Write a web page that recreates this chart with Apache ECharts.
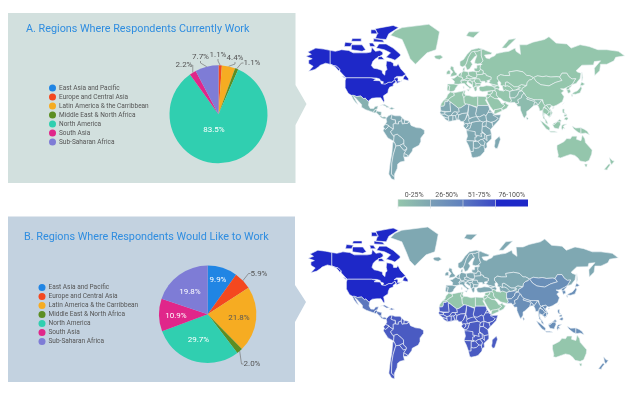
<!DOCTYPE html>
<html><head><meta charset="utf-8">
<style>html,body{margin:0;padding:0;background:#fff}#c{width:640px;height:396px}</style>
<script src="https://cdn.jsdelivr.net/npm/echarts@6/dist/echarts.min.js"></script>
</head><body><div id="c"></div>
<script>
const regions = ['East Asia and Pacific','Europe and Central Asia','Latin America & the Carribbean','Middle East & North Africa','North America','South Asia','Sub-Saharan Africa'];
const regionColors = ['#2085E4','#F4481F','#F6AC22','#5C8E22','#30CFB0','#E0268A','#7E7CD6'];
const currentWork = [0,1.1,4.4,1.1,83.5,2.2,7.7];
const wouldLikeWork = [9.9,5.9,21.8,2.0,29.7,10.9,19.8];
const bandLabels = ['0-25%','26-50%','51-75%','76-100%'];
const titleA = 'A. Regions Where Respondents Currently Work';
const titleB = 'B. Regions Where Respondents Would Like to Work';
// estimated shade (0-100) of each map group
const mapGroups = ['na','gl','mx','sa','eu','ru','ca','me','sas','eas','ssa','au','nz'];
const shadeA =    [100, 0,  18, 25, 0,  0,  0,  0,  8,   0,   25,  0,  0];
const shadeB =    [100, 25, 62, 75, 25, 25, 25, 0,  50,  50,  75,  0,  50];
const shadeStops = ['#94C6AC','#7FA8B2','#6A8FB8','#4A5BC2','#1E28C8'];
// coarse base geography: [country, group, "lon,lat lon,lat ...|next polygon"]
const geography = [
['Canada','na','-141,69.6 -135,69 -128,70 -120,69.5 -115,68 -108,68 -100,68 -95,68.5 -94,71.5 -90,69 -85,69.5 -82,68.5 -81.5,67 -87,65 -90,64 -93,62 -94.5,59 -92,57 -88,56.5 -82.5,55.2 -82,52.9 -79.5,51.3 -79,54.5 -77,56 -78,59 -77.5,62.4 -73,62 -70,61 -69.5,58.8 -66,58.8 -64.5,60.3 -61.5,56.5 -57,53 -55.8,52 -60,50.2 -66,50.2 -69,48.5 -65,49.2 -64.5,47.5 -65,46 -61,46 -60,47 -62,45.5 -66,44 -66,45 -67,45.2 -68,47.3 -70,46 -71.5,45 -75,45 -79,43.3 -82.5,43 -81.7,44 -81,45.5 -84.5,46.5 -85,47.9 -88.5,48.8 -89.5,48 -95,49 -123,49 -125,50.5 -130,54.5 -130,56 -133.5,58.5 -137,59 -141,60|-62,66 -68,63 -72,64 -78,65 -73,68 -80,70 -89,71 -86,73.5 -78,73.5 -70,71 -62,67|-117,70 -105,69 -101,70 -105,73 -117,73|-125,72 -118,72 -116,74 -124,74.5|-90,76.5 -78,76 -75,79 -64,82 -70,83 -90,81.5 -88,79|-92,74.8 -80,74.5 -82,75.8 -92,76.5|-96,72 -90,72 -93,74 -97,74|-117,75 -106,75 -106,76.5 -116,76.5|-95,79 -87,79 -90,81 -95,81|-87,63.5 -80,63.5 -83,65.5 -87,65.5|-59,47.7 -53,46.7 -53,48.5 -56,51.5 -58,50|-128,50.5 -123.5,48.4 -125,50'],
['USA','na','-123,49 -95,49 -89.5,48 -92,46.7 -86,46.5 -84.5,46 -84,45 -83.3,43.7 -82.5,43 -79,43.3 -75,45 -71.5,45 -70,46 -68,47.3 -67,45.2 -70,43.5 -70,41.7 -74,40.5 -75.5,38 -76,35 -81,32 -80,27 -80.5,25.2 -82.5,28 -84,30 -89,30 -90,29 -94,29.5 -97,27.5 -97.2,26 -99.5,27.5 -101.5,29.8 -103,29 -106.5,31.8 -111,31.3 -114.8,32.5 -117.1,32.5 -120.5,34.5 -124,40 -124,46.5|-141,69.6 -141,60 -137,59 -133.5,58.5 -130,56 -131.5,55 -135,58 -140,59.8 -146,60.8 -152,59.2 -154,58 -158,56 -165,54.5 -160,58.5 -165,60.5 -165,63 -161,64 -168,65.7 -162,67 -166,68.5 -157,71 -148,70.4'],
['Mexico','mx','-117.1,32.5 -114.8,32.5 -111,31.3 -106.5,31.8 -103,29 -101.5,29.8 -99.5,27.5 -97.2,26 -97.8,22.3 -95.8,18.8 -92,18.6 -90.5,21 -87,21.5 -88,18.2 -89.2,17.8 -91,17 -92.2,14.5 -96,15.8 -101,17.5 -105.5,20 -105.5,23 -109,26.5 -112.5,30 -114.7,31.5 -112,27 -109.5,23 -112,25 -115,28.5'],
['Guatemala','mx','-92.2,14.5 -91,17 -89.2,17.8 -88.3,16 -89.3,14.4 -90.5,13.8'],
['Honduras','mx','-89.3,14.4 -88.3,16 -83.2,15 -83.7,11 -85.7,11 -87.6,13'],
['Panama','mx','-85.7,11 -83.7,11 -82.5,9.3 -79.5,9.6 -77.3,8.6 -78,7.4 -80.5,7.3 -83,8.2'],
['Cuba','mx','-85,22 -80,23.2 -74.2,20.2 -77.5,19.9 -78,21 -82,22.5'],
['Hispaniola','mx','-74.4,18.5 -72,20 -68.4,18.7 -71.5,17.7'],
['Colombia','sa','-77.3,8.6 -75,11 -72,12.2 -71.5,10.8 -72.5,7.5 -70,6.5 -67.5,6.2 -67.8,2 -70,1.5 -69.8,-4.2 -73,-2.3 -75.2,-0.1 -78.8,1.4 -77.3,4 -78,7.4'],
['Venezuela','sa','-72,12.2 -68,10.7 -62,10.7 -60,8.5 -60.7,5.2 -64,4 -64,1.5 -67,1.2 -67.8,2 -67.5,6.2 -70,6.5 -72.5,7.5 -71.5,10.8'],
['Guyana','sa','-60,8.5 -57.2,6 -57.5,2 -59.8,1.5 -60.7,5.2'],
['Suriname','sa','-57.2,6 -52,4.9 -51.6,4 -54,2.2 -57.5,2'],
['Ecuador','sa','-78.8,1.4 -75.2,-0.1 -75.5,-1.5 -78.5,-4.5 -80.3,-3.4 -81,-1'],
['Peru','sa','-75.2,-0.1 -73,-2.3 -69.8,-4.2 -73,-7 -70.6,-11 -69,-12.5 -69.5,-17.5 -70.4,-18.3 -76,-14 -81.3,-6 -80.3,-3.4 -78.5,-4.5 -75.5,-1.5'],
['Bolivia','sa','-69,-12.5 -69.5,-11 -65.4,-9.8 -60.5,-13.7 -58,-16.3 -58,-19.8 -62.7,-22.2 -67,-22.8 -68.5,-19 -69.5,-17.5'],
['Chile','sa','-70.4,-18.3 -69.5,-17.5 -68.5,-19 -67,-22.8 -70,-32 -71.5,-40 -72,-50 -68.5,-52.3 -68.5,-55 -72,-54 -75,-50 -73.5,-40 -71.5,-30'],
['Argentina','sa','-67,-22.8 -62.7,-22.2 -58,-27.3 -54.6,-26 -57.6,-30.2 -58,-34 -57,-38 -62,-39 -65,-41 -65.5,-45 -68.5,-50 -68.5,-52.3 -72,-50 -71.5,-40 -70,-32'],
['Paraguay','sa','-62.7,-22.2 -58,-19.8 -57.8,-22 -55,-24 -54.6,-26 -58,-27.3'],
['Uruguay','sa','-58,-34 -53.5,-34 -53.2,-32.7 -57.6,-30.2'],
['Brazil','sa','-69.8,-4.2 -70,1.5 -67.8,2 -67,1.2 -64,1.5 -64,4 -60.7,5.2 -59.8,1.5 -57.5,2 -54,2.2 -51.6,4 -50,0 -44,-2.5 -39,-3 -35,-5.5 -35,-9 -39,-14 -39,-18 -41,-22 -48,-25.5 -48.5,-28 -53.5,-34 -53.2,-32.7 -57.6,-30.2 -54.6,-26 -55,-24 -57.8,-22 -58,-19.8 -58,-16.3 -60.5,-13.7 -65.4,-9.8 -69.5,-11 -69,-12.5 -70.6,-11 -73,-7'],
['Greenland','gl','-73,78.2 -60,76 -55,70 -51,64 -45,60 -42,62 -32,68 -22,70 -20,75 -18,80 -30,83.5 -60,82 -68,80.5'],
['Iceland','eu','-24,65.5 -22,64 -18,63.5 -14,65 -17,66.5 -22,66.3'],
['Norway','eu','5,59 7.5,58 11,59 12.5,61 14.5,65 18,68.5 25,69 29,70 31,70.3 26,71 18,70 13,67 9,63.5 5,62'],
['Sweden','eu','11,59 13,55.5 16,56.5 19,60 17,62 22,65.8 24,66 21,69 18,68.5 14.5,65 12.5,61'],
['Finland','eu','24,66 22,63 21.5,60.8 25,60.2 28,60.5 31,62.5 29,66 29,70 25,69 21,69'],
['Russia','ru','28,60.5 30,60 28,59.5 27.5,57.5 28,56 31,55 31,53 34,52.3 34.5,51 40,49.6 39.8,47.5 37.5,47 39,46 37,45 40,43.5 48,42 47.5,45 49,46.5 47,48 47,50 50.5,51.7 55,51 61,51 60,54 69,55 76,54 80,51 83,51 87.5,49.2 92,50.7 98,50 102,50.5 107,49.7 114,50 117,49.7 119.7,53 125,53 127.5,50 131,48 135,48.3 131,43 132,43 135.5,44 140,48.5 141,53 137,54 135.5,55 142,59.3 155,59.5 156,62 163,62.5 156,57 156.5,51 162,55 163,60 170,60 178,62.5 180,65 190,66 183,69 170,70 160,70 150,72 140,73 130,71 125,73.5 113,74 105,77.5 100,76 87,74.5 80,73 72,73 73,67 68,69 67,71 60,69 54,68.5 46,67.5 44,66 40,65 38,64 34.5,64.5 32.5,66.5 40,67 41,68 34,69.5 31,70.3 29,70 29,66 31,62.5|142,54 143,49 142,46 142,50|52,71 57,71 68,76.5 60,76'],
['Svalbard','eu','12,78 20,77 27,80 15,80'],
['Baltics','eu','28,59.5 24,59.3 24,57 21,57 21,55.3 23,54.3 26,54 28,56 27.5,57.5'],
['Belarus','eu','28,56 31,55 31,53 31,52 25,51.7 23.7,52 23,54.3 26,54'],
['Ukraine','eu','23.7,52 25,51.7 31,52 31,53 34,52.3 34.5,51 40,49.6 39.8,47.5 37.5,47 35,46.3 36.5,45.2 33.5,44.5 33,46 30,46 28,45.5 27,48 22.5,48.2 22.5,49 24,50.5'],
['Poland','eu','14.2,54 19,54.5 23,54.3 23.7,52 24,50.5 22.5,49 19,49.5 15,51'],
['Germany','eu','7,53.5 9,54.8 14.2,54 15,51 12.2,50.3 13.5,48.7 10,47.5 7.5,47.7 8,49 6.2,49.5 6,51'],
['Denmark','eu','8.2,55 8.5,57 10.5,57.5 10,55'],
['Benelux','eu','3,51.3 4.8,53 7,53.5 6,51 6.2,49.5 4,50'],
['France','eu','2.5,51 3,51.3 4,50 6.2,49.5 8,49 7.5,47.7 6,46.2 7,44 3,43.2 3,42.5 -1.7,43.4 -1.2,46 -4.7,48.4 -1.5,48.7 0,49.6'],
['Spain','eu','-1.7,43.4 3,42.5 0,39.5 -0.5,38 -2,36.8 -5.5,36 -7.4,37.2 -6.5,41.5 -9,42 -9,43.5'],
['Portugal','eu','-9,42 -6.5,41.5 -7.4,37.2 -9,37 -9.5,38.7'],
['Italy','eu','7,44 6,46.2 10,47 13.5,46.5 13.7,45.6 12.3,44.5 14,42.3 18.4,40 16.5,39.6 16,38 15.5,40 12,42 10,44|12.5,38 15.5,38.2 15,36.7|8.3,41 9.7,41 9.5,39 8.5,39'],
['Austria','eu','7.5,47.7 10,47.5 13.5,48.7 17,48.5 16,46.8 13.5,46.5 10,47 6,46.2'],
['Czechia','eu','12.2,50.3 15,51 19,49.5 22.5,49 22.5,48.2 17,47.9 17,48.5 13.5,48.7'],
['Hungary','eu','17,47.9 22.5,48.2 21,46.2 18.5,45.8 16,46.8 17,48.5'],
['Romania','eu','22.5,48.2 27,48 28,45.5 29.5,45.2 28.5,43.7 22.7,44 21,46.2'],
['Bulgaria','eu','22.7,44 28.5,43.7 28,42 26,41.5 22.9,41.3'],
['Greece','eu','20.5,39.7 21,41 22.9,41.3 26,41.5 24,40.5 23,40 24,38 23,36.5 21.5,37 21,38.5'],
['Croatia','eu','13.7,45.6 16,46.8 18.5,45.8 19.3,44 19,42.6 18.5,42.5 14.5,45'],
['Serbia','eu','18.5,45.8 21,46.2 22.7,44 22.9,41.3 21,41 20.5,39.7 19.4,41 19,42.6 19.3,44'],
['UK','eu','-5.5,50 1.3,51.2 1.7,52.7 0,53.5 -2,56 -2,57.7 -5,58.6 -6,56.5 -3,54 -5,52'],
['Ireland','eu','-10,52 -6,52.2 -6,55 -8,55.3 -10,54'],
['Turkey','ca','26.3,40 28,41.2 31,41.2 35,42 41.5,41.5 44.5,39.7 44.5,37.2 42,37.2 36,36.8 36,36 30.5,36.2 27.3,37'],
['Georgia','ca','41.5,41.5 40,43.5 46.5,41.8 45,41.2'],
['Azerbaijan','ca','41.5,41.5 45,41.2 46.5,41.8 48,42 49.5,40.3 48.5,38.5 44.5,39.7'],
['Syria','me','36,36 36,36.8 42,37.2 41,34.4 38.8,33.4 36,33'],
['Iraq','me','42,37.2 44.5,37.2 46,35.5 46,33 48.5,30 46.5,29 44,29.2 39,32 38.8,33.4 41,34.4'],
['Jordan','me','34.3,31.2 35,33 36,33 38.8,33.4 39,32 37,30 35,29.5'],
['Saudi Arabia','me','35,29.5 37,30 39,32 44,29.2 46.5,29 48,28.5 50,26.5 51.5,24.3 55.5,22 52,19 48,18 44,17.4 43,17 42.5,16.5 39,21 35,28'],
['Yemen','me','43,13 45,13 52,16 53,16.7 52,19 48,18 44,17.4 43,17'],
['Oman','me','51.5,24.3 54,24.2 56.3,26 56.5,24 59.8,22.5 57.5,18.9 53,16.7 52,19 55.5,22'],
['Iran','me','44.5,39.7 48.5,38.5 49,37.5 54,36.8 56,38 61,36.5 61,31.5 63,27 61.5,25 57,26 54,26.7 50.5,29.5 48.5,30 46,33 46,35.5 44.5,37.2'],
['Afghanistan','sas','61,36.5 65,37.5 68,38 71,38.2 74.5,37 71,36 70,33 66.5,30 61,29.8 61,31.5'],
['Pakistan','sas','61,29.8 66.5,30 70,33 71,36 74.5,37 77,35 74.5,32 74,30 70,28 71,24.5 68,23.7 66.5,25.3 61.5,25 63,27 61,31.5'],
['Turkmenistan','ca','52.5,41.7 54,42.3 56,41.3 58,42 61,41 65,38 65,37.5 61,36.5 56,38 54,36.8 53,40'],
['Uzbekistan','ca','56,45 58,45.5 61,44 66,41 70,41 73,40 68,38 65,37.5 65,38 61,41 58,42 56,41.3'],
['Kyrgyzstan','ca','68,38 71,38.2 74.5,37 75,39.5 80,42 74,43 70,41 73,40'],
['Kazakhstan','ca','47,48 49,46.5 51,44.5 50.5,42.5 52.5,41.7 54,42.3 56,41.3 56,45 58,45.5 61,44 66,41 70,41 74,43 80,42 80.5,45 83,47 85.5,47.5 87.5,49.2 83,51 80,51 76,54 69,55 60,54 61,51 55,51 50.5,51.7 47,50'],
['Mongolia','eas','87.5,49.2 92,50.7 98,50 102,50.5 107,49.7 114,50 117,49.7 119.7,46.7 112,44.8 105,41.7 96,42.8 91,45.5'],
['China','eas','74.5,37 75,39.5 80,42 80.5,45 83,47 85.5,47.5 87.5,49.2 91,45.5 96,42.8 105,41.7 112,44.8 119.7,46.7 117,49.7 119.7,53 125,53 127.5,50 131,48 135,48.3 131,43 128,41.5 124.3,40 121.5,39 118,39 122,37 119,35 122,31 120,26 114,22.5 110,21 108,21.6 106,23 102,22.4 101,21.2 98.8,24 98,28 92,28 88.5,28 81,30.2 78.5,32.5 77,35|109,18.5 111,19.5 109.5,20'],
['Taiwan','eas','120.2,23 121,22 122,25 121,25'],
['North Korea','eas','124.3,40 128,41.5 131,43 129.7,41 127.5,39.5 128.5,38.4 125,37.8'],
['South Korea','eas','125,37.8 128.5,38.4 129.4,36 128.5,35 126.5,34.5'],
['Japan','eas','131,34 135,33.6 140,35 142,39.5 141,41.3 139.8,40 137,37 133,35.5|130,33.5 131.8,33.2 131,31 130,32|140,42 143,42.2 145.3,43.5 141.7,45.4'],
['India','sas','68,23.7 71,24.5 70,28 74,30 74.5,32 77,35 78.5,32.5 81,30.2 80,28.8 88,26.5 88.5,28 92,28 97,28 94,24 92.5,22 91.5,24.3 89,26 88,22 87,21 82,16.7 80,15.5 80,12 77.5,8 76,10 73,17 72.8,21 70,20.8 69,22.5'],
['Nepal','sas','80,28.8 81,30.2 88.5,28 88,26.5'],
['Bangladesh','sas','88,22 89,26 91.5,24.3 92.5,22 91,22.5'],
['Sri Lanka','sas','80,9.6 81.8,7.5 80.5,6 79.8,8'],
['Myanmar','eas','94,24 97,28 98,28 98.8,24 101,21.2 100,20.3 99,20 98,16 99,12 98,10 97.5,16.5 94.5,16 94,19 92.5,22'],
['Thailand','eas','99,20 100,20.3 103,18 105.5,15 102.5,12 100,13.5 99.5,11 100,8 102,6 100.5,6.5 98.3,8 99,12 98,16'],
['Laos','eas','100,20.3 101,21.2 102,22.4 105,19 107.5,15 105.5,15 103,18'],
['Cambodia','eas','102.5,12 105.5,15 107.5,15 107,11 105,10'],
['Vietnam','eas','102,22.4 106,23 108,21.6 105.8,19 109,14 107,10.5 105,8.7 105,10 107,11 107.5,15 105,19'],
['Malaysia','eas','100.5,6.5 102,6 103.5,3 104,1.4 101.3,3|109.5,2 113,3.3 117,7 119,5 117.7,4 114.5,4 111,1'],
['Indonesia','eas','95.3,5.5 98.5,3.5 104,-1 106,-3 105.5,-5.8 102,-4 98,1|105.5,-6.5 111,-6.5 114.5,-7.7 114,-8.7 107,-7.7|109,1 109.5,2 111,1 114.5,4 117.7,4 118,1 116.5,-2 116,-4 111,-3 110,-1|119.5,0 121,1 125,1.5 121,-1 123,-4 121,-3 120,-5.5 119,-3|131,-0.8 135,-3 141,-2.6 141,-9 138,-8 133,-4'],
['Papua New Guinea','eas','141,-2.6 145,-4.5 148,-6.5 150.5,-10.5 146,-8.5 143,-9 141,-9'],
['Philippines','eas','120.3,18.3 122.2,18.3 122,15 124,13 120.6,14 120,16|122,7 125,5.8 126.5,7.5 125.5,9.5 123,8.5|122,10 125,10.5 125,12.5 122,11.8'],
['Australia','au','114,-22 114,-26 115.5,-32 115,-34.4 118,-35 124,-33 129,-31.5 134,-32.5 137.5,-35 140,-38 146,-39 150,-37.5 153,-31 153.5,-27 146,-19 145.3,-15 142.5,-10.8 141,-17 136,-15.5 136.5,-12 131,-12 129,-15 125,-14.5 122,-18 117,-20.5|145,-41 148,-41 147.5,-43.5 146,-43.5'],
['New Zealand','nz','173,-34.5 176,-37.5 178.5,-38 175.5,-41.5 174,-39.5|172.5,-40.7 174,-41.7 171,-45 170.5,-46.5 167,-46 171,-42'],
['Morocco','me','-5.8,35.8 -2,35 -1.2,32.5 -5,30.5 -8.7,27.7 -13,27.7 -10,30 -9,33'],
['Western Sahara','me','-13,27.7 -8.7,27.7 -8.7,26 -12,26 -12,23.3 -13,21.3 -17,21 -16,24'],
['Algeria','me','-2,35 9.5,37 8,33 9.5,30 10,24.5 12,23.5 6,19.5 3.3,19 -4.8,25 -8.7,27.7 -5,30.5 -1.2,32.5'],
['Tunisia','me','9.5,37 11,37 10.2,34 11.5,32.5 9.5,30 8,33'],
['Libya','me','11.5,32.5 15,32.3 20,31 25,31.7 25,22 25,20 24,19.5 15,23 12,23.5 10,24.5 9.5,30'],
['Egypt','me','25,31.7 32,31.3 34.3,31.2 35,28 33.5,28 37,22 25,22'],
['Sudan','ssa','24,19.5 25,20 25,22 37,22 38.5,18 36.5,14.3 34.2,10.5 32,12 27,9.5 23.5,10 22.5,13'],
['South Sudan','ssa','23.5,10 27,9.5 32,12 34.2,10.5 35,5 31,3.6 27.5,5'],
['Eritrea','ssa','38.5,18 43,12.6 40,14.7 36.5,14.3'],
['Ethiopia','ssa','36.5,14.3 40,14.7 43,12.6 42,11.5 48,8 45,5 42,4 39,3.5 35,5 34.2,10.5'],
['Somalia','ssa','42,11.5 51,12 49,6 42,-1.5 41,2.8 42,4 45,5 48,8'],
['Kenya','ssa','35,5 39,3.5 41,2.8 42,-1.5 39.3,-4.6 34,-1 34,4'],
['Uganda','ssa','31,3.6 35,5 34,4 34,-1 30,-1.2 30,1.5'],
['Tanzania','ssa','30,-1.2 34,-1 39.3,-4.6 40.5,-10.5 35,-11.5 32.8,-9.4 29.5,-6.5'],
['DR Congo','ssa','18.5,3.5 22,4.2 27.5,5 31,3.6 30,1.5 30,-1.2 29.5,-6.5 30,-8.5 28.5,-9 29.5,-12.5 25,-11.7 24,-11 22,-11 22,-7 17,-7 16,-6 12.2,-6 13,-4.8 16,-3.5 17.5,1'],
['Congo','ssa','13.3,2.2 16,2.2 18.5,3.5 17.5,1 16,-3.5 13,-4.8 11.2,-3.7 14,-0.5'],
['Gabon','ssa','9.5,1 11.3,2.2 13.3,2.2 14,-0.5 11.2,-3.7 9,-1'],
['Cameroon','ssa','9.7,3 8.6,4.5 11,6.5 14,12.8 15,10 15.3,7.6 14.3,6.5 16,2.2 13.3,2.2 11.3,2.2 9.5,1'],
['Central African Rep.','ssa','14.3,6.5 15.3,7.6 18.5,8.8 22.5,11 23.5,10 27.5,5 22,4.2 18.5,3.5 16,2.2'],
['Chad','ssa','14,12.8 13.5,13.7 15,23 24,19.5 22.5,13 23.5,10 22.5,11 18.5,8.8 15.3,7.6 15,10'],
['Niger','ssa','3.3,19 6,19.5 12,23.5 15,23 13.5,13.7 8,13.3 3.7,11.7 2.2,12.5 1,15 4,15'],
['Mali','ssa','-12.2,12.5 -12,14.8 -11.5,15.5 -5.5,15.5 -6.5,25 -4.8,25 3.3,19 4,15 1,15 -2,15 -5,11 -8,10.3'],
['Mauritania','ssa','-17,21 -13,21.3 -12,23.3 -12,26 -8.7,26 -8.7,27.7 -4.8,25 -6.5,25 -5.5,15.5 -11.5,15.5 -12,14.8 -16.5,16'],
['Senegal','ssa','-16.5,16 -12,14.8 -12.2,12.5 -16.7,12.4 -17.5,14.7'],
['Guinea','ssa','-16.7,12.4 -12.2,12.5 -8,10.3 -7.7,8 -10.3,8.5 -13.2,9.5 -15,11'],
['Liberia','ssa','-13.2,9.5 -10.3,8.5 -7.7,8 -7.5,4.4 -11.5,6.9'],
['Ivory Coast','ssa','-7.7,8 -8,10.3 -5,11 -2.8,11 -2.8,9.5 -3,5.1 -7.5,4.4'],
['Burkina Faso','ssa','-5,11 -2,15 1,15 2.2,12.5 0,11 -2.8,11'],
['Ghana','ssa','-2.8,11 0,11 1.2,6.1 -3,5.1 -2.8,9.5'],
['Benin','ssa','0,11 2.2,12.5 3.7,11.7 2.7,6.3 1.2,6.1'],
['Nigeria','ssa','2.7,6.3 3.7,11.7 8,13.3 13.5,13.7 14,12.8 11,6.5 8.6,4.5 6,4.3 4.5,6.3'],
['Angola','ssa','12.2,-6 16,-6 17,-7 22,-7 22,-11 24,-11 24,-13 22,-13 22,-16.5 23.5,-17.5 13,-17 11.8,-17 13.5,-12'],
['Zambia','ssa','22,-13 24,-13 24,-11 25,-11.7 29.5,-12.5 28.5,-9 30,-8.5 32.8,-9.4 33,-12 33,-14.5 30.2,-15.5 28,-16 25.3,-17.8 23.5,-17.5 22,-16.5'],
['Malawi','ssa','32.8,-9.4 35,-11.5 35.5,-17 33,-14.5 33,-12'],
['Mozambique','ssa','35,-11.5 40.5,-10.5 40.5,-15 35,-20 35.5,-24 32.8,-26 32,-24 32,-22.3 33,-19 30.2,-15.5 33,-14.5 35.5,-17'],
['Zimbabwe','ssa','25.3,-17.8 28,-16 30.2,-15.5 33,-19 32,-22.3 29,-22 26,-19'],
['Botswana','ssa','20,-18 23.5,-17.5 25.3,-17.8 26,-19 29,-22 26,-24.7 23,-25.3 20,-24.7'],
['Namibia','ssa','11.8,-17 13,-17 23.5,-17.5 20,-18 20,-24.7 20,-28.5 17,-28.5 14.5,-22'],
['South Africa','ssa','17,-28.5 20,-28.5 20,-24.7 23,-25.3 26,-24.7 29,-22 32,-22.3 32,-24 32.8,-26 32.5,-28.5 28,-33 25,-34 20,-34.8 18.3,-34'],
['Madagascar','ssa','49.3,-12 50.5,-15.5 47.2,-25 45,-25.5 43.5,-23 44.3,-20 44.3,-16.5']
];

const ring = s => { const r = s.trim().split(/\s+/).map(p => p.split(',').map(Number)); r.push(r[0]); return r; };
const world = () => ({ type:'FeatureCollection', features: geography.map(([name,,polys]) => ({
  type:'Feature', properties:{name},
  geometry:{ type:'MultiPolygon', coordinates: polys.split('|').map(p => [ring(p)]) }
}))});
echarts.registerMap('worldA', world());
echarts.registerMap('worldB', world());

const miller = { project: ([lon,lat]) => {
    const phi = lat*Math.PI/180;
    return [lon, -1.25*Math.log(Math.tan(Math.PI/4+0.4*phi))*180/Math.PI];
  },
  unproject: ([x,y]) => [x, (Math.atan(Math.exp(-y*Math.PI/180/1.25))-Math.PI/4)/0.4*180/Math.PI]
};
const mapData = shades => geography.map(([name,g]) => ({ name, value: shades[mapGroups.indexOf(g)] }));
const mapSeries = (map,shades,left,top,width,height) => ({
  type:'map', map, projection:miller, left, top, width, height, roam:false, silent:true,
  showLegendSymbol:false, label:{show:false}, emphasis:{disabled:true}, select:{disabled:true},
  itemStyle:{borderColor:'#EEF3F6', borderWidth:0.6},
  data: mapData(shades)
});

const labelGray = '#555';
const pieSeries = (values,center,radius,placed,lightSet) => ({
  type:'pie', center, radius, startAngle:90, clockwise:true, avoidLabelOverlap:false, silent:true,
  minShowLabelAngle:0,
  data: regions.map((name,i) => {
    const inside = lightSet.includes(i);
    return { name, value: values[i], itemStyle:{color:regionColors[i]},
      label:{ show: values[i] > 0, color: (inside && values[i] !== 21.8) ? '#fff' : labelGray },
      labelLine:{ show: !inside && values[i] > 0, lineStyle:{color:'#777',width:0.7} } };
  }),
  label:{ fontFamily:'Roboto', fontSize:8, formatter: p => p.value.toFixed(1)+'%', position:'outside' },
  labelLine:{ length:3, length2:2 },
  labelLayout: p => { const q = placed[p.dataIndex]; return q ? {x:q[0], y:q[1], align:'center', verticalAlign:'middle', hideOverlap:false, moveOverlap:null} : {}; }
});
const legendAt = (left,top) => ({
  left, top, orient:'vertical', icon:'circle', itemWidth:7, itemHeight:7, itemGap:2, itemStyle:{borderWidth:0},
  padding:0, selectedMode:false, data:regions,
  textStyle:{ fontFamily:'Roboto', fontSize:6.5, color:'#555', padding:[0,0,0,-2] }
});
const panel = (x0,y0,x1,y1,ay0,ay,ay1,fill) => ({
  type:'polygon', z:0, silent:true, style:{fill},
  shape:{ points:[[x0,y0],[x1,y0],[x1,ay0],[x1+11,ay],[x1,ay1],[x1,y1],[x0,y1]] }
});
const bandFill = [['#94C6AC','#7FA6B2'],['#7A9EB6','#5F80BE'],['#5A78C0','#3A48C6'],['#1E28C8','#1E28C8']];
const bandStart = 398, bandW = 32.5;
const bandRects = bandLabels.flatMap((t,i) => [
  { type:'rect', z:1, silent:true, shape:{x:bandStart+i*bandW, y:199.5, width:bandW, height:7},
    style:{ fill:new echarts.graphic.LinearGradient(0,0,1,0,[{offset:0,color:bandFill[i][0]},{offset:1,color:bandFill[i][1]}]) } },
  { type:'rect', z:2, silent:true, shape:{x:bandStart+i*bandW-0.3, y:199.5, width:0.6, height:9}, style:{fill:'#D5DCE2'} },
  { type:'text', z:2, silent:true, style:{ text:t, x:bandStart+(i+0.5)*bandW, y:195.5, fill:'#555', font:'7px Roboto', align:'center', verticalAlign:'middle' } }
]);

const chart = echarts.init(document.getElementById('c'), null, {renderer:'canvas'});
chart.setOption({
  animation:false,
  backgroundColor:'#fff',
  title:[
    { text:titleA, left:26, top:24, padding:0, textStyle:{ fontFamily:'Roboto', fontWeight:'normal', fontSize:10.8, color:'#2F8DE0' } },
    { text:titleB, left:24, top:232, padding:0, textStyle:{ fontFamily:'Roboto', fontWeight:'normal', fontSize:10.8, color:'#2F8DE0' } }
  ],
  legend:[ legendAt(49,84.5), legendAt(38.5,284) ],
  visualMap:{ show:false, type:'continuous', min:0, max:100, seriesIndex:[0,1], inRange:{ color:shadeStops } },
  graphic:[
    panel(8,13,295.5,183,85,104,125,'#D2E0DE'),
    panel(8,216.5,295,382,285,302,322,'#C3D2E0'),
    ...bandRects
  ],
  series:[
    mapSeries('worldA',shadeA,306,24.3,318.6,155.8),
    mapSeries('worldB',shadeB,308.3,227,310,152),
    pieSeries(currentWork,[218.5,114.3],49,
      {1:[218,55],2:[235,58],3:[252,63],4:[214,130],5:[184,65],6:[200.5,57]},[4]),
    pieSeries(wouldLikeWork,[207.7,314.3],48.7,
      {0:[218,279.5],1:[259,273.5],2:[239,317.5],3:[252,364],4:[198.5,339.5],5:[176,315.5],6:[190,291.5]},[0,2,4,5,6])
  ]
});
</script></body></html>
